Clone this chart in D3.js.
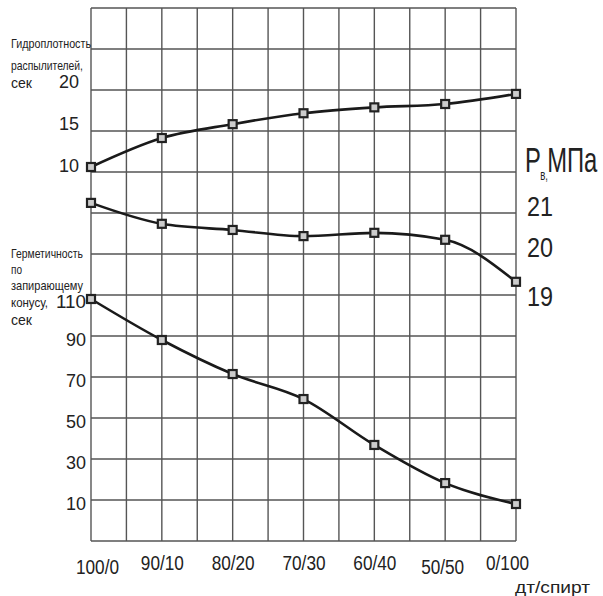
<!DOCTYPE html>
<html>
<head>
<meta charset="utf-8">
<script src="https://cdn.jsdelivr.net/npm/d3@7"></script>
<style>
  body { margin: 0; background: #fff; }
  text { font-family: "Liberation Sans", Arial, sans-serif; fill: #222; }
</style>
</head>
<body>
<div id="chart"></div>
<script>
// data
const categories = ["100/0", "90/10", "80/20", "70/30", "60/40", "50/50", "0/100"];
const hydroDensity = [10.0, 13.45, 15.1, 16.4, 17.1, 17.5, 18.7];   // сек
const pressure = [21.1, 20.59, 20.44, 20.29, 20.37, 20.2, 19.31];    // МПа
const tightness = [110, 90, 73.4, 61.2, 38.8, 20.2, 10];             // сек
const hydroTicks = [10, 15, 20];
const pressureTicks = [19, 20, 21];
const tightnessTicks = [10, 30, 50, 70, 90, 110];

const width = 603, height = 596;
const grid = { left: 91, right: 516, top: 8, bottom: 541, rows: 13 };

const svg = d3.select("#chart")
  .append("svg")
  .attr("width", width)
  .attr("height", height);

// x: categories on every other grid line
let x = d3.scaleLinear()
  .domain([0, categories.length - 1])
  .range([grid.left, grid.right]);

let gy = d3.scaleLinear()
  .domain([0, grid.rows])
  .range([grid.top, grid.bottom]);

// three stacked value scales, each on its own band of the grid
let yHydro = d3.scaleLinear().domain([10, 20]).range([167, 83]);
let yPress = d3.scaleLinear().domain([19, 20, 21]).range([297, 248, 207]); // uneven like the original
let yTight = d3.scaleLinear().domain([10, 110]).range([504, 299]);

// grid
let g = svg.append("g").attr("stroke", "#555").attr("stroke-width", 1.4);
g.selectAll(".v")
  .data(d3.range(0, categories.length - 0.99, 0.5))
  .join("line")
  .attr("x1", d => x(d)).attr("x2", d => x(d))
  .attr("y1", grid.top).attr("y2", grid.bottom);
g.selectAll(".h")
  .data(d3.range(0, grid.rows + 1))
  .join("line")
  .attr("x1", grid.left).attr("x2", grid.right)
  .attr("y1", d => gy(d)).attr("y2", d => gy(d));

// bottom category axis
let xAxis = svg.append("g")
  .attr("transform", `translate(0,${grid.bottom})`)
  .call(d3.axisBottom(x).tickValues(d3.range(categories.length)).tickSize(0).tickFormat(i => categories[i]));
xAxis.select(".domain").remove();
xAxis.selectAll("text")
  .attr("y", 23)
  .attr("dy", "0.32em")
  .attr("font-size", 20)
  .attr("fill", "#222")
  .attr("textLength", 43)
  .attr("lengthAdjust", "spacingAndGlyphs")
  .attr("transform", (d, i) => i === 0 ? "translate(6,4)" : i === categories.length - 1 ? "translate(-9,0)" : i === 5 ? "translate(-3,4)" : null);

svg.append("text")
  .attr("x", 515).attr("y", 587)
  .attr("dominant-baseline", "central")
  .attr("font-size", 17)
  .attr("textLength", 75).attr("lengthAdjust", "spacingAndGlyphs")
  .text("дт/спирт");

// tick labels
function tickLabels(ticks, scale, xPos, anchor, size, len, nudge) {
  svg.append("g").selectAll("text")
    .data(ticks)
    .join("text")
    .attr("x", xPos)
    .attr("y", d => scale(d) + (nudge ? nudge(d) : 0))
    .attr("text-anchor", anchor)
    .attr("dominant-baseline", "central")
    .attr("font-size", size)
    .attr("textLength", d => len * String(d).length)
    .attr("lengthAdjust", "spacingAndGlyphs")
    .text(d => d);
}
tickLabels(hydroTicks, yHydro, 79, "end", 18, 10, d => -1);
tickLabels(tightnessTicks, yTight, 86, "end", 18, 10, d => d === 110 ? 3 : 0);
tickLabels(pressureTicks, yPress, 527, "start", 27, 13, null);

// axis titles
let titles = [
  ["Гидроплотность", 43, 80],
  ["распылителей,", 65, 72],
  ["сек", 82, 21],
  ["Герметичность", 253, 72],
  ["по", 269, 11],
  ["запирающему", 285, 72],
  ["конусу,", 302, 37],
  ["сек", 319, 21]
];
svg.append("g").selectAll("text")
  .data(titles)
  .join("text")
  .attr("x", 11)
  .attr("y", d => d[1])
  .attr("dominant-baseline", "central")
  .attr("font-size", d => d[0] === "сек" ? 15 : 13)
  .attr("textLength", d => d[2])
  .attr("lengthAdjust", "spacingAndGlyphs")
  .text(d => d[0]);

// Р в, МПа label as one condensed text
let pl = svg.append("text")
  .attr("transform", "translate(525,172) scale(0.68,1)")
  .attr("font-size", 35);
pl.append("tspan").text("Р");
pl.append("tspan").attr("font-size", 14).attr("dx", -1).attr("dy", 8).text("в,");
pl.append("tspan").attr("dx", -1).attr("dy", -8).text("МПа");

// series
let series = [
  { values: hydroDensity, y: yHydro },
  { values: pressure, y: yPress },
  { values: tightness, y: yTight }
];

for (let s of series) {
  let line = d3.line()
    .x((d, i) => x(i))
    .y(d => s.y(d))
    .curve(d3.curveMonotoneX);

  svg.append("path")
    .datum(s.values)
    .attr("fill", "none")
    .attr("stroke", "#1a1a1a")
    .attr("stroke-width", 2.6)
    .attr("d", line);

  svg.append("g").selectAll("rect")
    .data(s.values)
    .join("rect")
    .attr("x", (d, i) => x(i) - 4)
    .attr("y", d => s.y(d) - 4)
    .attr("width", 8)
    .attr("height", 8)
    .attr("fill", "#ccc")
    .attr("stroke", "#222")
    .attr("stroke-width", 2.2);
}
</script>
</body>
</html>
